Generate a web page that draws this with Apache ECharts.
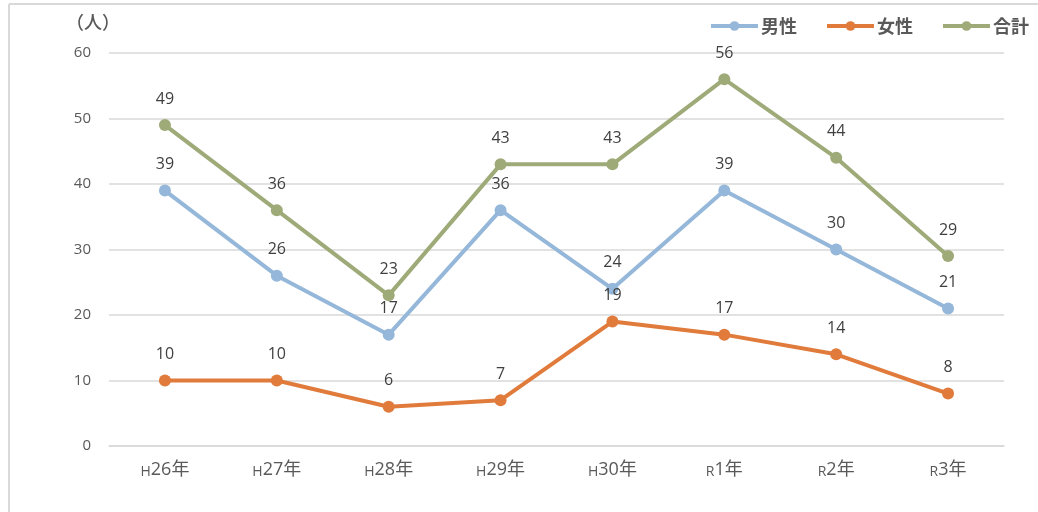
<!DOCTYPE html>
<html>
<head>
<meta charset="utf-8">
<script src="https://cdn.jsdelivr.net/npm/echarts@6/dist/echarts.min.js"></script>
<style>
  html, body { margin: 0; padding: 0; background: #fff; }
  #chart { width: 1038px; height: 512px; }
</style>
</head>
<body>
<div id="chart"></div>
<script>
// Year labels: era prefix (H = 平成, R = 令和) plus year number
const eraPrefixes = ['H', 'H', 'H', 'H', 'H', 'R', 'R', 'R'];
const yearNumbers = ['26年', '27年', '28年', '29年', '30年', '1年', '2年', '3年'];

// Counts per year
const maleCounts = [39, 26, 17, 36, 24, 39, 30, 21];
const femaleCounts = [10, 10, 6, 7, 19, 17, 14, 8];
const totalCounts = [49, 36, 23, 43, 43, 56, 44, 29];

const seriesNames = ['男性', '女性', '合計'];
const seriesColors = ['#95B7D9', '#E07B3C', '#9EAA78'];

const categories = eraPrefixes.map((p, i) => p + yearNumbers[i]);

const fontFamily = '"Noto Sans CJK JP", "Noto Sans", sans-serif';
const numFont = '"Open Sans", "Noto Sans CJK JP", sans-serif';

const chart = echarts.init(document.getElementById('chart'), null, { renderer: 'canvas' });

function lineSeries(name, data, color) {
  return {
    name: name,
    type: 'line',
    data: data,
    symbol: 'circle',
    symbolSize: 12,
    lineStyle: { color: color, width: 4 },
    itemStyle: { color: color },
    label: {
      show: true,
      position: 'top',
      distance: 12,
      color: '#404040',
      fontSize: 16,
      fontFamily: numFont
    },
    emphasis: { disabled: true },
    animation: false
  };
}

chart.setOption({
  backgroundColor: '#ffffff',
  animation: false,
  textStyle: { fontFamily: fontFamily },
  graphic: [
    // outer frame edges
    { type: 'line', shape: { x1: 9, y1: 4, x2: 1038, y2: 4 },
      style: { stroke: '#d9d9d9', lineWidth: 2 } },
    { type: 'line', shape: { x1: 9, y1: 4, x2: 9, y2: 512 },
      style: { stroke: '#d9d9d9', lineWidth: 2 } },
    // unit caption
    { type: 'text', left: 66, top: 13,
      style: { text: '（人）', fill: '#595959', font: '500 18px ' + fontFamily } }
  ],
  legend: {
    top: 12,
    right: 4,
    itemWidth: 47,
    itemHeight: 12,
    itemGap: 28,
    data: seriesNames,
    lineStyle: { width: 4 },
    textStyle: { color: '#595959', fontSize: 18, fontWeight: 'bold', fontFamily: fontFamily, padding: [0, 0, 0, -2] }
  },
  grid: {
    left: 109,
    right: 34,
    top: 53,
    bottom: 66,
    containLabel: false
  },
  xAxis: {
    type: 'category',
    data: categories,
    boundaryGap: true,
    axisLine: { show: true, lineStyle: { color: '#d9d9d9', width: 1.5 } },
    axisTick: { show: false },
    axisLabel: {
      margin: 15,
      interval: 0,
      formatter: function (v) {
        return '{p|' + v.charAt(0) + '}{n|' + v.slice(1) + '}';
      },
      rich: {
        p: { fontSize: 14, color: '#595959', fontFamily: numFont, verticalAlign: 'bottom' },
        n: { fontSize: 18, color: '#595959', fontFamily: numFont }
      }
    }
  },
  yAxis: {
    type: 'value',
    min: 0,
    max: 60,
    interval: 10,
    axisLine: { show: false },
    axisTick: { show: false },
    splitLine: { lineStyle: { color: '#d9d9d9', width: 1.5 } },
    axisLabel: { color: '#595959', fontSize: 15, margin: 18, fontFamily: numFont }
  },
  series: [
    lineSeries(seriesNames[0], maleCounts, seriesColors[0]),
    lineSeries(seriesNames[1], femaleCounts, seriesColors[1]),
    lineSeries(seriesNames[2], totalCounts, seriesColors[2])
  ]
});
</script>
</body>
</html>
